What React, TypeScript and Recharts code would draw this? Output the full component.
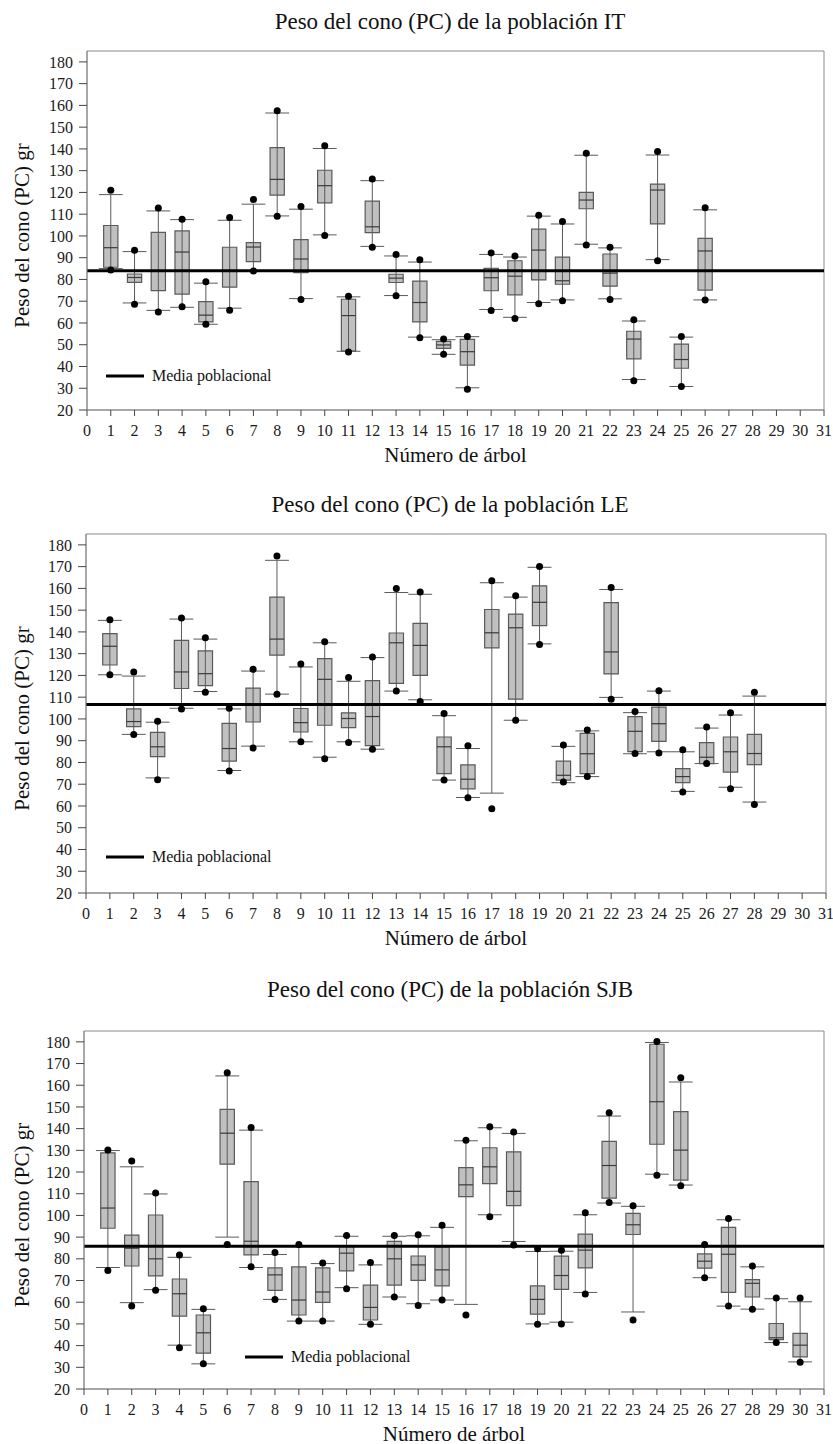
import React from 'react';
import { ComposedChart, XAxis, YAxis, Line, Scatter, ReferenceArea, ReferenceLine, Legend, Label } from 'recharts';

const FONT = "'Liberation Serif', 'Times New Roman', serif";

const xTicks = [0, 1, 2, 3, 4, 5, 6, 7, 8, 9, 10, 11, 12, 13, 14, 15, 16, 17, 18, 19, 20, 21, 22, 23, 24, 25, 26, 27, 28, 29, 30, 31];
const yTicks = [20, 30, 40, 50, 60, 70, 80, 90, 100, 110, 120, 130, 140, 150, 160, 170, 180];

// Población IT
const itTrees = [1, 2, 3, 4, 5, 6, 7, 8, 9, 10, 11, 12, 13, 14, 15, 16, 17, 18, 19, 20, 21, 22, 23, 24, 25, 26];
const itDotHigh = [121, 93.4, 112.8, 107.7, 78.9, 108.5, 116.8, 157.5, 113.5, 141.5, 72.3, 126.2, 91.5, 89.1, 52.6, 53.8, 92.2, 90.8, 109.5, 106.6, 138, 94.8, 61.5, 138.8, 53.8, 112.9];
const itCapHigh = [119, 92.8, 111.5, 107.5, 78.3, 107.2, 114.6, 156.5, 112.3, 140.2, 72, 125.4, 90.8, 88, 52.3, 53.7, 91.5, 90.3, 109.1, 105.5, 137.1, 94.5, 60.9, 137.2, 53.5, 112];
const itQ3 = [104.8, 82.5, 101.6, 102.3, 69.8, 94.8, 96.9, 140.6, 98.3, 130.2, 70.9, 116, 82.4, 79.2, 51.5, 52.5, 85.1, 88.6, 103.1, 90.3, 120, 91.7, 56.2, 123.8, 50.3, 98.9];
const itMedian = [94.6, 80.9, 84, 92.6, 63.6, 84, 94.9, 126, 89.4, 123.1, 63.4, 104.2, 80.6, 69.4, 49.9, 46.8, 80.8, 81.5, 93.5, 79.4, 116.5, 82.9, 52.6, 121.1, 43.2, 93.1];
const itQ1 = [85.6, 78.7, 74.9, 73.3, 60.5, 76.5, 88.2, 118.8, 83.1, 115.2, 47.1, 101.5, 78.6, 60.5, 48.3, 40.6, 74.8, 72.9, 79.8, 77.8, 112.5, 76.9, 43.5, 105.5, 39.2, 75.1];
const itCapLow = [85, 69.2, 65.8, 67.2, 59.4, 66.8, 84, 109.2, 71.2, 100.5, 47, 95.2, 72.6, 53.5, 45.6, 30.2, 66.2, 62.6, 69.4, 70.6, 96.2, 71.1, 34, 89.1, 30.8, 70.6];
const itDotLow = [84.3, 68.6, 65, 67.4, 59.4, 65.9, 83.9, 109, 70.8, 100.2, 46.6, 94.8, 72.5, 53.2, 45.6, 29.5, 65.7, 62, 68.8, 70.2, 95.8, 70.8, 33.4, 88.6, 30.8, 70.6];
const itMean = 84;

// Población LE
const leTrees = [1, 2, 3, 4, 5, 6, 7, 8, 9, 10, 11, 12, 13, 14, 15, 16, 17, 18, 19, 20, 21, 22, 23, 24, 25, 26, 27, 28];
const leDotHigh = [145.6, 121.6, 98.9, 146.4, 137.3, 104.9, 122.8, 174.9, 125.3, 135.5, 119.1, 128.5, 160, 158.4, 102.5, 87.7, 163.5, 156.6, 170.1, 88, 94.9, 160.4, 103.4, 112.9, 85.8, 96.3, 102.8, 112.3];
const leCapHigh = [145.3, 119.7, 98.5, 145.9, 136.7, 104.6, 122, 172.9, 123.9, 135, 117.3, 128.2, 158.1, 157.3, 101.5, 86.4, 162.6, 156, 169.7, 87.4, 94.5, 159.5, 102.9, 112.8, 84.9, 95.8, 101.8, 110.5];
const leQ3 = [139.2, 104.6, 93.8, 136.1, 131.3, 98, 114.2, 156, 104.8, 127.7, 102.8, 117.6, 139.5, 143.9, 91.7, 78.9, 150.3, 148.2, 161.2, 80.6, 93.4, 153.5, 101.1, 105.4, 77.2, 89.1, 91.7, 92.9];
const leMedian = [133.4, 98.8, 87.2, 121.6, 120.8, 86.4, 107, 136.7, 98.3, 118.2, 100.2, 101.1, 135, 133.8, 87.2, 72.3, 139.6, 141.9, 153.6, 74.1, 84, 130.8, 94.3, 97.8, 73.5, 82.4, 84.9, 84.1];
const leQ1 = [124.8, 96.5, 82.7, 114, 115.3, 80.6, 98.6, 129.3, 94, 97.1, 96, 87.7, 116.3, 120, 74.9, 67.9, 132.7, 109.1, 142.9, 71.9, 74.9, 120.7, 85, 89.7, 70.7, 79.5, 75.6, 79];
const leCapLow = [120.3, 92.9, 72.9, 104.9, 112.6, 76.3, 87.5, 111.4, 89.5, 82.4, 89.5, 86.1, 112.8, 108.8, 71.9, 63.9, 65.9, 99.4, 134.5, 70.7, 73.5, 109.9, 84, 84.9, 66.7, 79.5, 68.6, 61.8];
const leDotLow = [120.3, 92.9, 72, 104.6, 112.3, 76.1, 86.6, 111.3, 89.5, 81.7, 89.2, 86.1, 112.8, 108, 71.9, 63.8, 58.7, 99.4, 134.2, 71, 73.6, 109.1, 84.1, 84.4, 66.4, 79.5, 67.9, 60.7];
const leMean = 106.6;

// Población SJB
const sjbTrees = [1, 2, 3, 4, 5, 6, 7, 8, 9, 10, 11, 12, 13, 14, 15, 16, 17, 18, 19, 20, 21, 22, 23, 24, 25, 26, 27, 28, 29, 30];
const sjbDotHigh = [130.1, 125.1, 110.3, 81.8, 57, 165.8, 140.5, 82.9, 86.6, 78.1, 90.8, 78.3, 90.8, 91.1, 95.5, 134.7, 140.9, 138.5, 84.6, 84, 101.2, 147.3, 104.5, 180.2, 163.5, 86.6, 98.6, 76.7, 61.9, 61.9];
const sjbCapHigh = [129.9, 122.4, 109.9, 80.7, 56.7, 164.3, 139.3, 82, 86, 77.8, 90.4, 77.2, 90.4, 90.6, 94.5, 134.4, 140.4, 137.8, 83.4, 83.5, 100.3, 145.8, 104.2, 179.7, 161.5, 86, 98, 76.3, 61.6, 60.2];
const sjbQ3 = [128.8, 90.9, 100.2, 70.7, 54.1, 148.9, 115.6, 75.8, 76.3, 75.8, 86, 67.9, 88, 81.3, 85.5, 122, 131.2, 129.3, 67.5, 81.2, 91.4, 134.1, 100.9, 178.9, 147.8, 82.3, 94.5, 70.4, 50.2, 45.6];
const sjbMedian = [103.4, 84.9, 80, 63.9, 45.9, 137.9, 88.1, 72.6, 61, 64.7, 82.6, 57.6, 80, 77.2, 74.9, 114.1, 122.4, 111.1, 61.3, 72.3, 84, 123, 95.7, 152.4, 130.1, 78.9, 82.1, 68.7, 43.6, 40.2];
const sjbQ1 = [94.1, 76.7, 72.1, 53.6, 36.5, 123.6, 81.8, 65.5, 54.1, 59.9, 74.4, 51.8, 67.9, 70.1, 67.5, 108.7, 114.7, 104.5, 54.5, 65.9, 75.8, 108, 91.2, 132.8, 116.3, 75.7, 64.5, 62.4, 42.8, 34.8];
const sjbCapLow = [76, 59.8, 65.8, 40.2, 31.6, 90, 76, 61.3, 51.3, 51.3, 66.7, 49.8, 62.4, 59.3, 61, 59, 100.3, 88, 50, 50.8, 64.5, 105.7, 55.5, 119, 114, 71.3, 58.2, 56.8, 41.4, 32.5];
const sjbDotLow = [74.6, 58.2, 65.5, 39, 31.6, 86.6, 76.3, 61.3, 51.3, 51.3, 66.2, 49.8, 62.4, 58.5, 61, 54.1, 99.4, 86.4, 49.8, 50, 63.8, 105.9, 51.8, 118.5, 113.7, 71.3, 58.2, 56.8, 41.4, 32.3];
const sjbMean = 85.8;

const BOX_HALF = 0.3;
const CAP_HALF = 0.5;
const BOX_FILL = '#c0c0c0';
const BOX_STROKE = '#5a5a5a';
const FRAME = '#8a8a8a';

type Stats = {
  trees: number[];
  dotHigh: number[];
  capHigh: number[];
  q3: number[];
  median: number[];
  q1: number[];
  capLow: number[];
  dotLow: number[];
  mean: number;
};

type PanelProps = {
  title: string;
  stats: Stats;
  top: number;
  height: number;
  marginTop: number;
  axisWidth: number;
  marginRight: number;
  legendLeft: number;
  legendTop: number;
  titleTop: number;
};

const LegendContent = (props: any) => {
  const items = (props.payload || []).filter((p: any) => p.type !== 'none');
  return (
    <div style={{ display: 'flex', alignItems: 'center', height: 20, fontFamily: FONT, fontSize: 16, color: '#111' }}>
      {items.map((p: any) => (
        <span key={p.value} style={{ display: 'flex', alignItems: 'center' }}>
          <svg width={38} height={4} style={{ display: 'block' }}>
            <line x1={0} y1={2} x2={38} y2={2} stroke="#000" strokeWidth={3} />
          </svg>
          <span style={{ marginLeft: 8, whiteSpace: 'nowrap' }}>{p.value}</span>
        </span>
      ))}
    </div>
  );
};

const YLabel = (props: any) => {
  const vb = props.viewBox || { x: 0, y: 0, width: 0, height: 0 };
  const cx = 22;
  const cy = vb.y + vb.height / 2 + 5;
  return (
    <text x={cx} y={cy} transform={`rotate(-90 ${cx} ${cy})`} textAnchor="middle" dominantBaseline="central" style={{ fontFamily: FONT, fontSize: 21 }} fill="#111">
      Peso del cono (PC) gr
    </text>
  );
};

const tickStyle = { fontFamily: FONT, fontSize: 16, fill: '#1a1a1a', style: { fontFamily: FONT } };

const BoxPanel = ({ title, stats, top, height, marginTop, axisWidth, marginRight, legendLeft, legendTop, titleTop }: PanelProps) => {
  const { trees, dotHigh, capHigh, q3, median, q1, capLow, dotLow, mean } = stats;
  const dots = trees.flatMap((t, i) => [{ x: t, y: dotHigh[i] }, { x: t, y: dotLow[i] }]);
  const meanLine = [{ x: 0, y: mean }, { x: 31, y: mean }];

  const whiskers = trees.map((t, i) => (
    <ReferenceLine key={`w${i}`} segment={[{ x: t, y: capLow[i] }, { x: t, y: capHigh[i] }]} stroke={BOX_STROKE} strokeWidth={1} ifOverflow="visible" />
  ));
  const capsHigh = trees.map((t, i) => (
    <ReferenceLine key={`ch${i}`} segment={[{ x: t - CAP_HALF, y: capHigh[i] }, { x: t + CAP_HALF, y: capHigh[i] }]} stroke={BOX_STROKE} strokeWidth={1} ifOverflow="visible" />
  ));
  const capsLow = trees.map((t, i) => (
    <ReferenceLine key={`cl${i}`} segment={[{ x: t - CAP_HALF, y: capLow[i] }, { x: t + CAP_HALF, y: capLow[i] }]} stroke={BOX_STROKE} strokeWidth={1} ifOverflow="visible" />
  ));
  const boxes = trees.map((t, i) => (
    <ReferenceArea key={`b${i}`} x1={t - BOX_HALF} x2={t + BOX_HALF} y1={q1[i]} y2={q3[i]} fill={BOX_FILL} fillOpacity={1} stroke={BOX_STROKE} strokeWidth={1.2} ifOverflow="visible" />
  ));
  const medians = trees.map((t, i) => (
    <ReferenceLine key={`m${i}`} segment={[{ x: t - BOX_HALF, y: median[i] }, { x: t + BOX_HALF, y: median[i] }]} stroke="#3a3a3a" strokeWidth={1.2} ifOverflow="visible" />
  ));

  return (
    <div style={{ position: 'absolute', left: 0, top, width: 833, height, fontFamily: FONT }}>
      <div style={{ position: 'absolute', left: 450, top: titleTop, transform: 'translateX(-50%)', whiteSpace: 'nowrap', fontFamily: FONT, fontSize: 23, color: '#111', lineHeight: '26px' }}>
        {title}
      </div>
      <ComposedChart width={833} height={height} margin={{ top: marginTop, right: marginRight, bottom: 4, left: 0 }} style={{ fontFamily: FONT }}>
        <XAxis
          type="number"
          dataKey="x"
          domain={[0, 31]}
          ticks={xTicks}
          interval={0}
          allowDataOverflow
          height={52}
          tickSize={6}
          tickMargin={9}
          stroke={FRAME}
          tickLine={{ stroke: '#444' }}
          tick={tickStyle}
        >
          <Label value="Número de árbol" position="insideBottom" offset={0} style={{ fontFamily: FONT, fontSize: 21, fill: '#111' }} />
        </XAxis>
        <YAxis
          type="number"
          dataKey="y"
          domain={[20, 185]}
          ticks={yTicks}
          interval={0}
          allowDataOverflow
          width={axisWidth}
          tickSize={8}
          tickMargin={6}
          stroke={FRAME}
          tickLine={{ stroke: '#444' }}
          tick={tickStyle}
        >
          <Label content={<YLabel />} />
        </YAxis>
        <ReferenceArea x1={0} x2={31} y1={20} y2={185} fill="none" stroke={FRAME} strokeWidth={1} ifOverflow="visible" />
        {whiskers}
        {capsHigh}
        {capsLow}
        {boxes}
        {medians}
        <Legend
          layout="horizontal"
          verticalAlign="middle"
          align="center"
          content={<LegendContent />}
          wrapperStyle={{ left: legendLeft, top: legendTop, width: 'auto' }}
        />
        <Line
          data={meanLine}
          dataKey="y"
          name="Media poblacional"
          stroke="#000"
          strokeWidth={3}
          dot={false}
          activeDot={false}
          legendType="line"
          isAnimationActive={false}
        />
        <Scatter
          data={dots}
          dataKey="y"
          legendType="none"
          isAnimationActive={false}
          shape={(p: any) => <circle cx={p.cx} cy={p.cy} r={3.5} fill="#000" />}
        />
      </ComposedChart>
    </div>
  );
};

const itStats: Stats = { trees: itTrees, dotHigh: itDotHigh, capHigh: itCapHigh, q3: itQ3, median: itMedian, q1: itQ1, capLow: itCapLow, dotLow: itDotLow, mean: itMean };
const leStats: Stats = { trees: leTrees, dotHigh: leDotHigh, capHigh: leCapHigh, q3: leQ3, median: leMedian, q1: leQ1, capLow: leCapLow, dotLow: leDotLow, mean: leMean };
const sjbStats: Stats = { trees: sjbTrees, dotHigh: sjbDotHigh, capHigh: sjbCapHigh, q3: sjbQ3, median: sjbMedian, q1: sjbQ1, capLow: sjbCapLow, dotLow: sjbDotLow, mean: sjbMean };

export default function App() {
  return (
    <div style={{ position: 'absolute', left: 0, top: 0, width: 833, height: 1444, background: '#fff', fontFamily: FONT }}>
      <BoxPanel title="Peso del cono (PC) de la población IT" stats={itStats} top={0} height={466} marginTop={51} axisWidth={87} marginRight={9} legendLeft={106} legendTop={366} titleTop={9} />
      <BoxPanel title="Peso del cono (PC) de la población LE" stats={leStats} top={480} height={469} marginTop={54} axisWidth={86} marginRight={7} legendLeft={106} legendTop={367} titleTop={12} />
      <BoxPanel title="Peso del cono (PC) de la población SJB" stats={sjbStats} top={975} height={470} marginTop={56} axisWidth={84} marginRight={9} legendLeft={245} legendTop={372} titleTop={2} />
    </div>
  );
}
